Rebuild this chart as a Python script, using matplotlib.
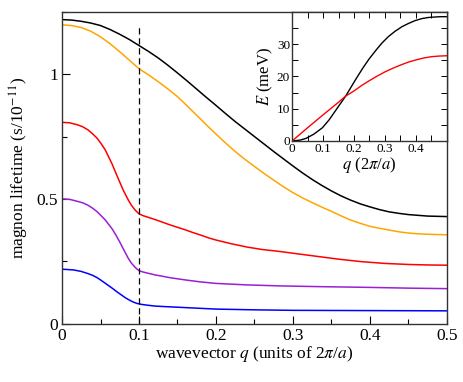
import matplotlib
matplotlib.use("Agg")
import matplotlib.pyplot as plt
from matplotlib.ticker import MultipleLocator

plt.rcParams['font.family'] = ['Liberation Serif', 'DejaVu Serif']
plt.rcParams['mathtext.fontset'] = 'stix'

# ---- main panel data (q in units of 2pi/a, lifetime in 1e-11 s) ----
q_black = [0, 0.0125, 0.025, 0.0375, 0.05, 0.0625, 0.075, 0.0875, 0.1, 0.1125, 0.125, 0.1375,
           0.15, 0.1625, 0.175, 0.1875, 0.2, 0.2125, 0.225, 0.2375, 0.25, 0.2625, 0.275, 0.2875,
           0.3, 0.3125, 0.325, 0.3375, 0.35, 0.3625, 0.375, 0.3875, 0.4, 0.4125, 0.425, 0.4375,
           0.45, 0.4625, 0.475, 0.4875, 0.5]
v_black = [1.219, 1.217, 1.212, 1.205, 1.195, 1.179, 1.16, 1.139, 1.115, 1.091, 1.065, 1.036,
           1.005, 0.973, 0.94, 0.907, 0.875, 0.842, 0.81, 0.78, 0.75, 0.72, 0.69, 0.661,
           0.632, 0.604, 0.578, 0.554, 0.532, 0.512, 0.495, 0.48, 0.468, 0.457, 0.448, 0.442,
           0.437, 0.434, 0.431, 0.43, 0.429]

q_orange = [0, 0.0125, 0.025, 0.0375, 0.05, 0.0625, 0.075, 0.0875, 0.1, 0.1125, 0.125, 0.1375,
            0.15, 0.1625, 0.175, 0.1875, 0.2, 0.2125, 0.225, 0.2375, 0.25, 0.2625, 0.275, 0.2875,
            0.3, 0.3125, 0.325, 0.3375, 0.35, 0.3625, 0.375, 0.3875, 0.4, 0.4125, 0.425, 0.4375,
            0.45, 0.4625, 0.475, 0.4875, 0.5]
v_orange = [1.198, 1.195, 1.187, 1.172, 1.15, 1.122, 1.09, 1.056, 1.022, 0.997, 0.97, 0.941,
            0.91, 0.873, 0.835, 0.797, 0.76, 0.724, 0.69, 0.659, 0.63, 0.602, 0.575, 0.549,
            0.525, 0.504, 0.485, 0.467, 0.45, 0.432, 0.415, 0.402, 0.39, 0.382, 0.375, 0.368,
            0.363, 0.36, 0.358, 0.357, 0.356]

q_red = [0, 0.01, 0.02, 0.027, 0.034, 0.04, 0.045, 0.05, 0.056, 0.06, 0.065, 0.07, 0.075, 0.08,
         0.086, 0.09, 0.095, 0.1, 0.105, 0.11, 0.12, 0.13, 0.14, 0.15, 0.16, 0.17, 0.18, 0.19,
         0.2, 0.22, 0.24, 0.26, 0.283, 0.305, 0.335, 0.36, 0.39, 0.42, 0.45, 0.475, 0.5]
v_red = [0.807, 0.805, 0.797, 0.789, 0.776, 0.76, 0.745, 0.725, 0.697, 0.672, 0.64, 0.603,
         0.567, 0.532, 0.496, 0.475, 0.455, 0.44, 0.433, 0.428, 0.418, 0.407, 0.396, 0.386,
         0.376, 0.365, 0.355, 0.344, 0.335, 0.32, 0.307, 0.297, 0.289, 0.28, 0.268, 0.258,
         0.248, 0.241, 0.237, 0.235, 0.234]

q_purple = [0, 0.01, 0.02, 0.027, 0.034, 0.04, 0.045, 0.05, 0.056, 0.06, 0.065, 0.07, 0.075,
            0.08, 0.086, 0.09, 0.095, 0.1, 0.105, 0.11, 0.121, 0.13, 0.14, 0.16, 0.18, 0.2,
            0.24, 0.283, 0.335, 0.4, 0.45, 0.5]
v_purple = [0.5, 0.498, 0.49, 0.484, 0.474, 0.462, 0.45, 0.435, 0.416, 0.4, 0.38, 0.355, 0.327,
            0.297, 0.262, 0.243, 0.225, 0.212, 0.207, 0.203, 0.195, 0.19, 0.184, 0.175, 0.167,
            0.161, 0.155, 0.151, 0.148, 0.145, 0.142, 0.14]

q_blue = [0, 0.015, 0.025, 0.034, 0.04, 0.045, 0.05, 0.056, 0.061, 0.066, 0.071, 0.077, 0.082,
          0.087, 0.092, 0.097, 0.103, 0.11, 0.121, 0.14, 0.16, 0.2, 0.25, 0.3, 0.4, 0.5]
v_blue = [0.218, 0.215, 0.209, 0.2, 0.193, 0.185, 0.175, 0.162, 0.151, 0.14, 0.128, 0.115,
          0.104, 0.095, 0.087, 0.081, 0.077, 0.074, 0.07, 0.067, 0.064, 0.058, 0.055, 0.053,
          0.052, 0.051]

dashed_q = 0.1
dashed_top = 1.2

# ---- inset data: dispersion E(q) in meV ----
q_inset_black = [0, 0.025, 0.045, 0.07, 0.098, 0.12, 0.141, 0.173, 0.205, 0.228, 0.248, 0.27,
                 0.291, 0.312, 0.333, 0.355, 0.376, 0.398, 0.419, 0.44, 0.462, 0.48, 0.5]
e_inset_black = [0, 0.25, 0.8, 2.1, 4.1, 6.6, 9.5, 13.9, 19.0, 22.5, 25.3, 28.0, 30.4, 32.4,
                 34.0, 35.4, 36.4, 37.3, 37.9, 38.25, 38.4, 38.5, 38.5]
q_inset_red = [0, 0.05, 0.1, 0.15, 0.173, 0.2, 0.225, 0.25, 0.275, 0.3, 0.325, 0.35, 0.375,
               0.4, 0.425, 0.45, 0.475, 0.5]
e_inset_red = [0, 4.1, 8.1, 12.0, 13.9, 15.5, 17.2, 18.7, 20.1, 21.4, 22.5, 23.5, 24.4, 25.1,
               25.7, 26.1, 26.3, 26.4]

main_xticks = [0, 0.1, 0.2, 0.3, 0.4, 0.5]
main_xticklabels = ['0', '0.1', '0.2', '0.3', '0.4', '0.5']
main_yticks = [0, 0.5, 1]
main_yticklabels = ['0', '0.5', '1']
inset_xticks = [0, 0.1, 0.2, 0.3, 0.4]
inset_xticklabels = ['0', '0.1', '0.2', '0.3', '0.4']
inset_yticks = [0, 10, 20, 30]
inset_yticklabels = ['0', '10', '20', '30']

fig = plt.figure(figsize=(4.63, 3.82), dpi=100)
ax = fig.add_axes([0.134, 0.153, 0.831, 0.816])

lw = 1.1
ax.plot(q_black, v_black, color='black', lw=lw)
ax.plot(q_orange, v_orange, color='#ffa500', lw=lw)
ax.plot(q_red, v_red, color='#ff0000', lw=lw)
ax.plot(q_purple, v_purple, color='#9a1ed6', lw=lw)
ax.plot(q_blue, v_blue, color='#0000ff', lw=lw)
ax.plot([dashed_q, dashed_q], [0, dashed_top], color='black', lw=0.9, ls=(0, (5, 3)))

ax.set_xlim(0, 0.5)
ax.set_ylim(0, 1.25)
ax.set_xticks(main_xticks)
ax.set_xticklabels(main_xticklabels)
ax.set_yticks(main_yticks)
ax.set_yticklabels(main_yticklabels)
ax.xaxis.set_minor_locator(MultipleLocator(0.05))
ax.yaxis.set_minor_locator(MultipleLocator(0.25))
ax.tick_params(which='both', direction='in', top=False, right=False, labelsize=12.5, pad=3)
ax.tick_params(which='major', length=6, width=0.8)
ax.tick_params(which='minor', length=3.5, width=0.8)
for s in ax.spines.values():
    s.set_linewidth(1.0)
    s.set_color('#333333')
ax.set_xlabel(r'wavevector $q$ (units of 2$\pi$/$a$)', fontsize=12.5, labelpad=0)
ax.set_ylabel(r'magnon lifetime (s/10$^{-11}$)', fontsize=12.5, labelpad=4)

axi = fig.add_axes([0.631, 0.631, 0.334, 0.338])
axi.plot(q_inset_black, e_inset_black, color='black', lw=1.0)
axi.plot(q_inset_red, e_inset_red, color='#ff0000', lw=1.0)
axi.set_xlim(0, 0.5)
axi.set_ylim(0, 40)
axi.set_xticks(inset_xticks)
axi.set_xticklabels(inset_xticklabels)
axi.set_yticks(inset_yticks)
axi.set_yticklabels(inset_yticklabels)
axi.xaxis.set_minor_locator(MultipleLocator(0.05))
axi.yaxis.set_minor_locator(MultipleLocator(5))
axi.tick_params(which='both', direction='in', top=True, right=True, labelsize=9.5, pad=1.5)
axi.tick_params(which='major', length=4, width=0.7)
axi.tick_params(which='minor', length=4, width=0.7)
for s in axi.spines.values():
    s.set_linewidth(1.0)
    s.set_color('#333333')
axi.set_xlabel(r'$q$ (2$\pi$/$a$)', fontsize=12, labelpad=0)
axi.set_ylabel(r'$E$ (meV)', fontsize=12, labelpad=1)

fig.savefig('out.png', dpi=100)
